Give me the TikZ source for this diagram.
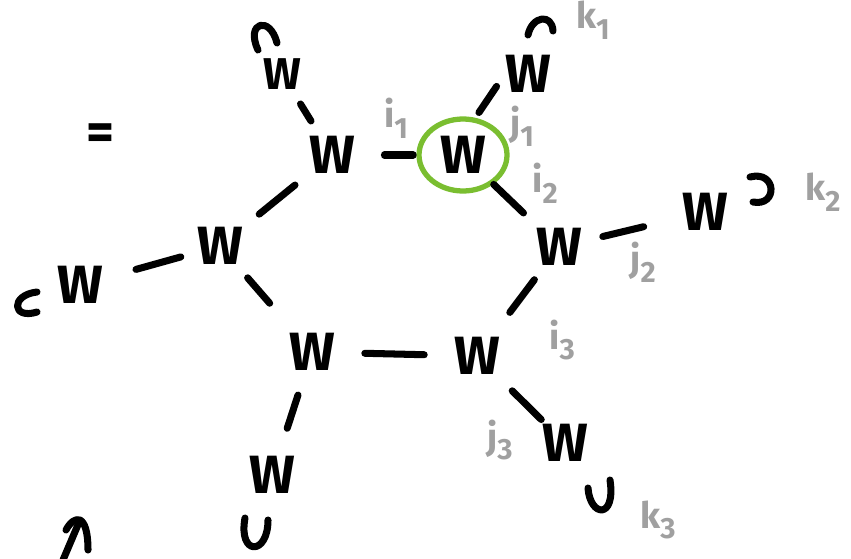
\documentclass[tikz,border=0pt]{standalone}
\usepackage{fontspec}
\setsansfont{Fira Sans}
\usepackage{xcolor}
\usetikzlibrary{positioning,calc}

\definecolor{idxgray}{RGB}{160,160,160}
\definecolor{ringgreen}{RGB}{122,190,48}
\newcommand{\idx}[2]{#1\raisebox{-0.55ex}{\fontsize{25}{25}\selectfont #2}}

\begin{document}
\begin{tikzpicture}[
  x=0.03cm, y=-0.03cm, line cap=round, line join=round,
  w/.style={font=\sffamily\bfseries\fontsize{46}{46}\selectfont,inner sep=0pt},
  sw/.style={font=\sffamily\bfseries\fontsize{38}{38}\selectfont,inner sep=0pt},
  lb/.style={text=idxgray,font=\sffamily\bfseries\fontsize{31}{31}\selectfont,inner sep=0pt},
  bond/.style={draw,line width=6pt},
  endcap/.style={draw,line width=6pt}
]
\useasboundingbox (0,0) rectangle (851,558);

% ring
\node[w] (a) at (332,155) {W};
\node[w] (b) at (463,155) {W};
\node[w] (c) at (559,247) {W};
\node[w] (d) at (477,356) {W};
\node[w] (e) at (312,352) {W};
\node[w] (f) at (220,246) {W};
% outer ones
\node[sw] (ta) at (282,74) {W};
\node[w] (tb) at (528,74) {W};
\node[w] (tc) at (705,212) {W};
\node[w] (td) at (565,443) {W};
\node[w] (te) at (272,475) {W};
\node[w] (tf) at (80,285) {W};
\node[w] (eq) at (100,137) {=};

\draw[ringgreen,line width=4.5pt] (b) ellipse [x radius=44, y radius=36];

\draw[bond] ($(a)!0.40!(b)$) -- ($(a)!0.62!(b)$);
\draw[bond] ($(a)!0.33!(f)$) -- ($(a)!0.65!(f)$);
\draw[bond] ($(f)!0.30!(e)$) -- ($(f)!0.54!(e)$);
\draw[bond] ($(e)!0.32!(d)$) -- ($(e)!0.68!(d)$);
\draw[bond] ($(d)!0.40!(c)$) -- ($(d)!0.70!(c)$);
\draw[bond] ($(c)!0.37!(b)$) -- ($(c)!0.68!(b)$);
\draw[bond] ($(b.north)!0.38!(tb.west)$) -- ($(b.north)!0.80!(tb.west)$);
\draw[bond] ($(a)!0.42!(ta)$) -- ($(a)!0.63!(ta)$);
\draw[bond] ($(f)!0.28!(tf)$) -- ($(f)!0.60!(tf)$);
\draw[bond] ($(e)!0.35!(te)$) -- ($(e)!0.62!(te)$);
\draw[bond] ($(d)!0.40!(td)$) -- ($(d)!0.73!(td)$);
\draw[bond] ($(c)!0.30!(tc)$) -- ($(c)!0.58!(tc)$);

% open ends
\draw[endcap] (258,50) .. controls (245,22) and (270,15) .. (277,43);
\draw[endcap] (528,35) .. controls (532,16) and (552,13) .. (553,31);
\draw[endcap] (750,177) .. controls (777,170) and (778,207) .. (753,202);
\draw[endcap] (588,488) .. controls (590,517) and (616,520) .. (610,480);
\draw[endcap] (245,518) .. controls (238,556) and (268,556) .. (268,520);
\draw[endcap] (37,292) .. controls (10,295) and (12,320) .. (37,312);

\draw[endcap] (63,560) -- (80,520);
\draw[endcap] (66,530) .. controls (74,515) and (88,512) .. (88,550);

% indices
\node[lb] (i1) at (396,118) {\idx{i}{1}};
\node[lb] (j1) at (522,126) {\idx{j}{1}};
\node[lb] (i2) at (545,183) {\idx{i}{2}};
\node[lb] (j2) at (643,262) {\idx{j}{2}};
\node[lb] (i3) at (562,340) {\idx{i}{3}};
\node[lb] (j3) at (500,440) {\idx{j}{3}};
\node[lb] (k1) at (593,20) {\idx{k}{1}};
\node[lb] (k2) at (823,192) {\idx{k}{2}};
\node[lb] (k3) at (658,520) {\idx{k}{3}};
\end{tikzpicture}
\end{document}
